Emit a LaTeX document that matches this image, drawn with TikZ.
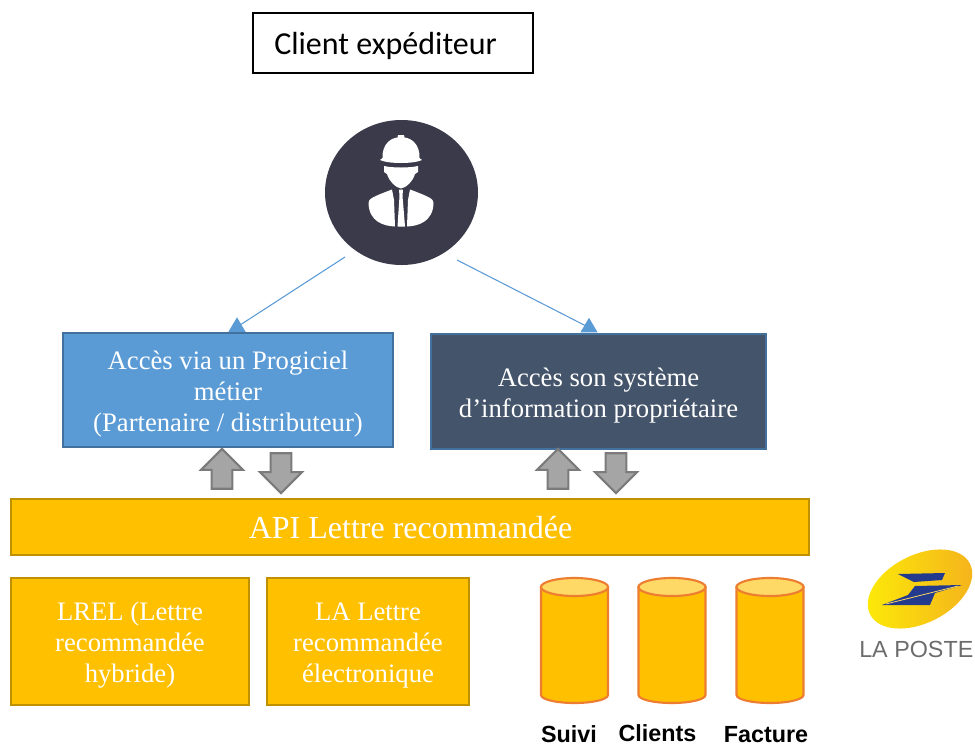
\documentclass[tikz,border=0pt]{standalone}
\usepackage{fontspec}
\setmainfont{Liberation Serif}
\newfontfamily\calibrifont{Carlito}
\newfontfamily\arialfont{Liberation Sans}
\usetikzlibrary{shapes.geometric,shapes.arrows}
\definecolor{bleu}{HTML}{5B9BD5}
\definecolor{bleubord}{HTML}{41719C}
\definecolor{ardoise}{HTML}{44546A}
\definecolor{jaune}{HTML}{FFC000}
\definecolor{jaunebord}{HTML}{BF9000}
\definecolor{jauneclair}{HTML}{FFD966}
\definecolor{orange}{HTML}{ED7D31}
\definecolor{nuit}{HTML}{3A3A4A}
\definecolor{fleche}{HTML}{A5A5A5}
\definecolor{flechebord}{HTML}{7B7B7B}
\definecolor{postebleu}{HTML}{243A8C}
\tikzset{
  boite/.style={draw, rectangle, line width=1.5pt, inner sep=0pt},
  boitej/.style={boite, fill=jaune, draw=jaunebord},
  texte/.style={inner sep=0pt, align=center, text=white, font=\fontsize{20}{23.25}\selectfont},
  monte/.style={draw=flechebord, fill=fleche, line width=1.6pt, single arrow, rotate=90, inner xsep=0pt, inner ysep=7pt,
    minimum height=30pt, minimum width=30pt, single arrow head extend=8pt, single arrow head indent=0pt},
  descend/.style={monte, rotate=-180},
  cuve/.style={draw=orange, line width=1.6pt},
  nom/.style={anchor=base, inner sep=0pt, font=\arialfont\bfseries\fontsize{17.5}{18}\selectfont},
  lien/.style={draw=bleu, line width=0.8pt},
  pointe/.style={isosceles triangle, shape border rotate=90, isosceles triangle stretches, fill=bleu,
    inner sep=0pt, minimum width=13pt, minimum height=11pt}
}
\begin{document}
\begin{tikzpicture}[x=0.75pt,y=-0.75pt]
      \useasboundingbox (0,0) rectangle (975,747);

      % titre
      \node (client) [draw, line width=1pt, minimum width=210pt, minimum height=45pt, inner sep=0pt] at (393,43) {};
      \node (clienttxt) [anchor=west, inner sep=0pt, font=\calibrifont\fontsize{24}{28}\selectfont] at (274,46) {Client expéditeur};

      % personnage
      \node (perso) [ellipse, fill=nuit, minimum width=114.75pt, minimum height=108.75pt, inner sep=0pt] at (401.5,192.5) {};
      \fill[white] (382.5,158) .. controls (382,144) and (391,138) .. (397.5,137.5) -- (398,135) -- (404,135) -- (404.5,137.5)
        .. controls (411,138) and (420,144) .. (419.5,158) -- (422,160) .. controls (414,164) and (388,164) .. (380,160) -- cycle;
      \fill[white] (384,166) .. controls (392,168) and (410,168) .. (418,166) -- (418,172) -- (415,174)
        .. controls (413,181) and (406,188) .. (401,188.5) .. controls (396,188) and (389,181) .. (387,174) -- (384,172) -- cycle;
      \fill[white] (392,189.5) -- (394,200) -- (395,226.5) .. controls (384,226) and (369,222) .. (368.5,203)
        .. controls (368.5,199) and (372,197) .. (392,189.5) -- cycle;
      \fill[white] (410,189.5) -- (408,200) -- (407,226.5) .. controls (418,226) and (433,222) .. (433.5,203)
        .. controls (433.5,199) and (430,197) .. (410,189.5) -- cycle;
      \fill[white] (399,189.5) -- (403,189.5) -- (402.5,196) -- (405,226.5) -- (397.5,226.5) -- (399.5,196) -- cycle;

      % boites d'acces
      \node (progiciel) [boite, fill=bleu, draw=bleubord, minimum width=247.5pt, minimum height=85.5pt] at (228,390) {};
      \node (progicieltxt) [texte] at (228,394) {Accès via un Progiciel\\métier\\(Partenaire / distributeur)};
      \node (proprio) [boite, fill=ardoise, draw=bleubord, minimum width=251pt, minimum height=86pt] at (598.5,391.5) {};
      \node (propriotxt) [texte] at (598.5,395.5) {Accès son système\\d’information propriétaire};

      % liens
      \coordinate (depg) at (345,257);
      \coordinate (depd) at (457,260);
      \node (ptg) [pointe] at (237,327) {};
      \node (ptd) [pointe] at (589,327.5) {};
      \draw[lien] (depg) -- (ptg.center);
      \draw[lien] (depd) -- (ptd.center);

      % API et services
      \node (api) [boitej, minimum width=598.5pt, minimum height=42pt] at (410,527) {};
      \node (apitxt) [texte, font=\fontsize{24}{28}\selectfont] at (410.5,528) {API Lettre recommandée};
      \node (lrel) [boitej, minimum width=178.5pt, minimum height=95pt] at (130,641.5) {};
      \node (lreltxt) [texte] at (130,645.5) {LREL (Lettre\\recommandée\\hybride)};
      \node (la) [boitej, minimum width=151.5pt, minimum height=95pt] at (368,641.5) {};
      \node (latxt) [texte] at (368,645.5) {LA Lettre\\recommandée\\électronique};

      % fleches
      \node (up1) [monte] at (222,474) {};
      \node (dn1) [descend] at (281,468) {};
      \node (up2) [monte] at (558,474) {};
      \node (dn2) [descend] at (616,468) {};

      % bases de donnees
      \foreach \cx in {574.5,672,770} {
        \draw[cuve, fill=jaune] (\cx-33.5,587) -- (\cx-33.5,695) arc[start angle=180, end angle=360, x radius=33.5, y radius=-8]
          -- (\cx+33.5,587) -- cycle;
        \draw[cuve, fill=jauneclair] (\cx,587) ellipse (33.5 and 9);
      }
      \node (nsuivi) [nom] at (569,742) {Suivi};
      \node (nclients) [nom] at (657.5,741) {Clients};
      \node (nfacture) [nom] at (766,742) {Facture};

      % logo
      \shade[left color=yellow!85!orange, right color=orange!60!yellow, rotate around={27:(920,589)}]
        (920,589) ellipse (56 and 34);
      \fill[postebleu] (898,574) -- (945,573) -- (942,580) -- (914,582) -- cycle;
      \fill[postebleu] (915,586) -- (962,585) -- (935,593) -- (930,605) -- (882,605) -- (908,595) -- cycle;
      \draw[jauneclair, line width=0.6pt] (886,604) -- (958,586);
      \node (poste) [anchor=west, inner sep=0pt, text=gray!85!black, font=\arialfont\fontsize{17.5}{20}\selectfont] at (859,649) {LA POSTE};
    \end{tikzpicture}
\end{document}
